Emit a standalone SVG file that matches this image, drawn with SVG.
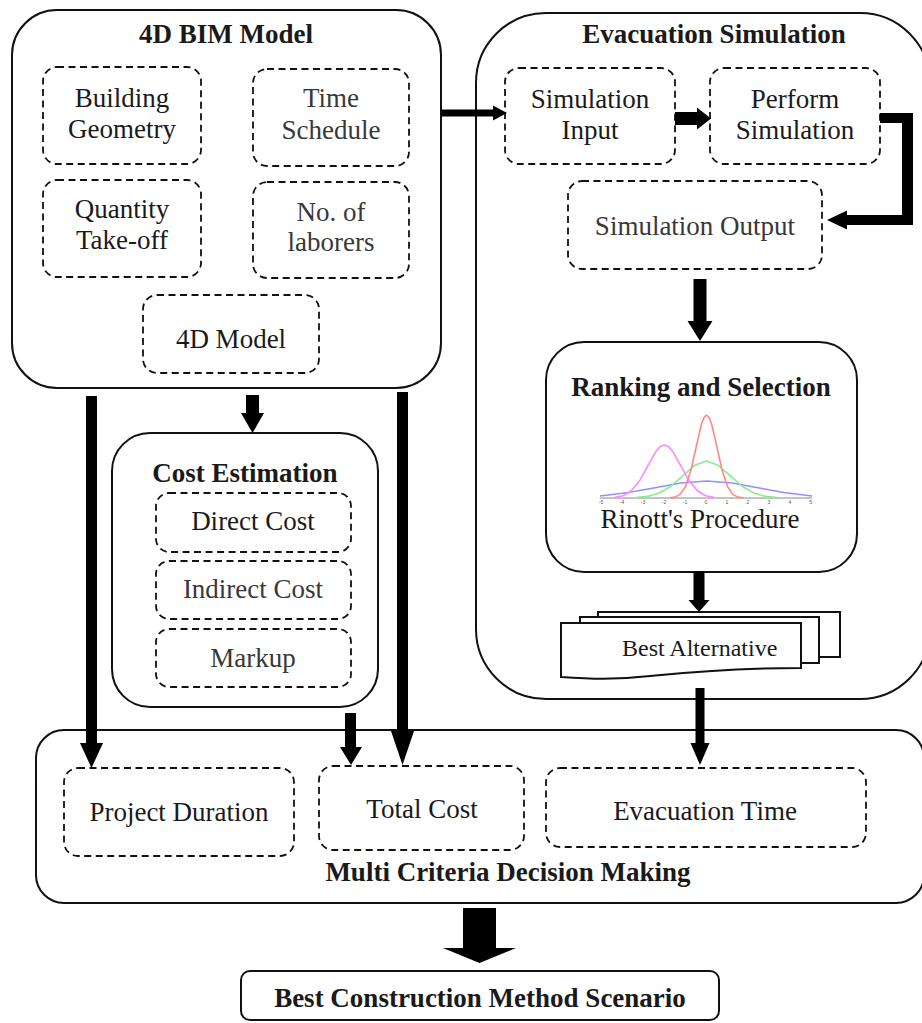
<svg xmlns="http://www.w3.org/2000/svg" width="922" height="1023" viewBox="0 0 922 1023">
<style>
.box{fill:none;stroke:#111;stroke-width:2}
.dash{fill:none;stroke:#111;stroke-width:1.8;stroke-dasharray:7 4.5}
.t{font-family:"Liberation Serif","Times New Roman",serif;font-size:27px;fill:#1a1a1a;text-anchor:middle}
.g{fill:#383838}
.b{font-weight:bold}
.arr{fill:#000}
.doc{fill:#fff;stroke:#111;stroke-width:2}
.curve{fill:none;stroke-width:1.6;stroke-linejoin:round}
.tick{font-family:"Liberation Sans",Arial,sans-serif;font-size:5px;fill:#555;text-anchor:middle}
</style>
<rect width="922" height="1023" fill="#fff"/>

<g id="bim-model">
<rect class="box" x="12" y="10" width="429" height="378" rx="45"/>
<text class="t b" x="226" y="43">4D BIM Model</text>
</g>
<g id="building-geometry">
<rect class="dash" x="43" y="67" width="158" height="97" rx="14"/>
<text class="t" x="122" y="107">Building</text>
<text class="t" x="122" y="138">Geometry</text>
</g>
<g id="time-schedule">
<rect class="dash" x="253" y="69" width="156" height="97" rx="14"/>
<text class="t g" x="331" y="107">Time</text>
<text class="t g" x="331" y="139">Schedule</text>
</g>
<g id="quantity-takeoff">
<rect class="dash" x="43" y="180" width="158" height="97" rx="14"/>
<text class="t" x="122" y="218">Quantity</text>
<text class="t" x="122" y="249">Take-off</text>
</g>
<g id="no-laborers">
<rect class="dash" x="253" y="182" width="156" height="96" rx="14"/>
<text class="t g" x="331" y="221">No. of</text>
<text class="t g" x="331" y="251">laborers</text>
</g>
<g id="model-4d">
<rect class="dash" x="143" y="295" width="176" height="78" rx="14"/>
<text class="t" x="231" y="348">4D Model</text>
</g>

<g id="evacuation-simulation">
<rect class="box" x="476" y="13" width="454" height="686" rx="70"/>
<text class="t b" x="714" y="43">Evacuation Simulation</text>
</g>
<g id="simulation-input">
<rect class="dash" x="505" y="68" width="170" height="96" rx="14"/>
<text class="t" x="590" y="108">Simulation</text>
<text class="t" x="590" y="139">Input</text>
</g>
<g id="perform-simulation">
<rect class="dash" x="710" y="68" width="170" height="96" rx="14"/>
<text class="t" x="795" y="108">Perform</text>
<text class="t" x="795" y="139">Simulation</text>
</g>
<g id="simulation-output">
<rect class="dash" x="568" y="181" width="254" height="88" rx="14"/>
<text class="t g" x="695" y="235">Simulation Output</text>
</g>

<g id="ranking-selection">
<rect class="box" x="546" y="342" width="311" height="230" rx="38"/>
<text class="t b" x="701" y="396">Ranking and Selection</text>
<line x1="600" y1="498" x2="812" y2="498" stroke="#888" stroke-width="1"/>
<g class="tick">
<text x="601" y="504">-5</text><text x="622" y="504">-4</text><text x="643" y="504">-3</text><text x="664" y="504">-2</text><text x="685" y="504">-1</text><text x="706" y="504">0</text><text x="727" y="504">1</text><text x="748" y="504">2</text><text x="769" y="504">3</text><text x="790" y="504">4</text><text x="811" y="504">5</text>
</g>
<polyline class="curve" stroke="#9090ff" points="600,496 628.3,492.5 655,487.7 680.75,483 706.5,481 732.25,483 758,487.7 783.75,492.5 812,496"/>
<polyline class="curve" stroke="#88ee88" points="635.7,497.6 647.5,496.4 659.3,493 671.1,486 682.9,475.6 694.7,465.3 706.5,461 718.3,465.3 730.1,475.6 741.9,486 753.7,493 765.5,496.4 777.3,497.6"/>
<polyline class="curve" stroke="#ff88ff" points="614.8,497.4 623.05,495.7 631.3,490.8 639.55,480.8 647.8,465.9 656.05,451.2 660.2,446.6 664.3,445 668.4,446.6 672.55,451.2 680.8,465.9 689.05,480.8 697.3,490.8 705.55,495.7 713.8,497.4"/>
<polyline class="curve" stroke="#ff8888" points="669.6,497.8 674.9,497.1 680.1,494.4 685.4,486.8 690.7,471.1 696,447.7 701.2,424.8 703.9,417.6 706.5,415 709.1,417.6 711.8,424.8 717.1,447.7 722.3,471.1 727.6,486.8 732.9,494.4 738.1,497.1 743.4,497.8"/>
<text class="t" x="700" y="528">Rinott's Procedure</text>
</g>

<g id="best-alternative">
<rect class="doc" x="598" y="612" width="242" height="45"/>
<rect class="doc" x="580" y="617" width="239" height="46"/>
<path class="doc" d="M561,623 H801 V668 C760,668 700,671 650,676 C615,680 590,679 561,677 Z"/>
<text class="t" style="font-size:24px;text-anchor:start" x="622" y="656">Best Alternative</text>
</g>

<g id="cost-estimation">
<rect class="box" x="112" y="433" width="266" height="274" rx="38"/>
<text class="t b" x="245" y="482">Cost Estimation</text>
</g>
<g id="direct-cost">
<rect class="dash" x="156" y="493" width="195" height="59" rx="13"/>
<text class="t" x="253" y="530">Direct Cost</text>
</g>
<g id="indirect-cost">
<rect class="dash" x="156" y="561" width="195" height="58" rx="13"/>
<text class="t g" x="253" y="598">Indirect Cost</text>
</g>
<g id="markup">
<rect class="dash" x="156" y="629" width="195" height="58" rx="13"/>
<text class="t g" x="253" y="667">Markup</text>
</g>

<g id="mcdm">
<rect class="box" x="36" y="730" width="888" height="173" rx="28"/>
<text class="t b" x="508" y="881">Multi Criteria Decision Making</text>
</g>
<g id="project-duration">
<rect class="dash" x="64" y="768" width="230" height="88" rx="14"/>
<text class="t" x="179" y="821">Project Duration</text>
</g>
<g id="total-cost">
<rect class="dash" x="319" y="766" width="205" height="84" rx="14"/>
<text class="t" x="422" y="818">Total Cost</text>
</g>
<g id="evacuation-time">
<rect class="dash" x="546" y="768" width="320" height="79" rx="14"/>
<text class="t" x="705" y="820">Evacuation Time</text>
</g>

<g id="best-construction">
<rect class="box" x="241" y="971" width="478" height="49" rx="9"/>
<text class="t b" x="480" y="1007">Best Construction Method Scenario</text>
</g>

<g id="connectors">
<polygon class="arr" points="441,109.5 493,109.5 493,105.5 507,113 493,120.5 493,116.5 441,116.5"/>
<polygon class="arr" points="675,112 697,112 697,107.5 711,118.5 697,129.5 697,125 675,125"/>
<polygon class="arr" points="880,113 913,113 913,225 847,225 847,229.5 827,220 847,210.5 847,215 902,215 902,123 880,123"/>
<polygon class="arr" points="693.5,279 706.5,279 706.5,321 712.5,321 700,341 687.5,321 693.5,321"/>
<polygon class="arr" points="246,395 259,395 259,413 264,413 252.5,433 241,413 246,413"/>
<polygon class="arr" points="86,396 97,396 97,743 103,743 91.5,768 80,743 86,743"/>
<polygon class="arr" points="397,392 408,392 408,731 414,731 402.5,765 391,731 397,731"/>
<polygon class="arr" points="345,713 356,713 356,747 362,747 351,765 340,747 345,747"/>
<polygon class="arr" points="693.5,571 704.5,571 704.5,600 709.5,600 699,612 688.5,600 693.5,600"/>
<polygon class="arr" points="695.5,688 704.5,688 704.5,743 709.5,743 700,765 690.5,743 695.5,743"/>
<polygon class="arr" points="463,908 496,908 496,948 516,948 479.5,963 443,948 463,948"/>
</g>
</svg>
